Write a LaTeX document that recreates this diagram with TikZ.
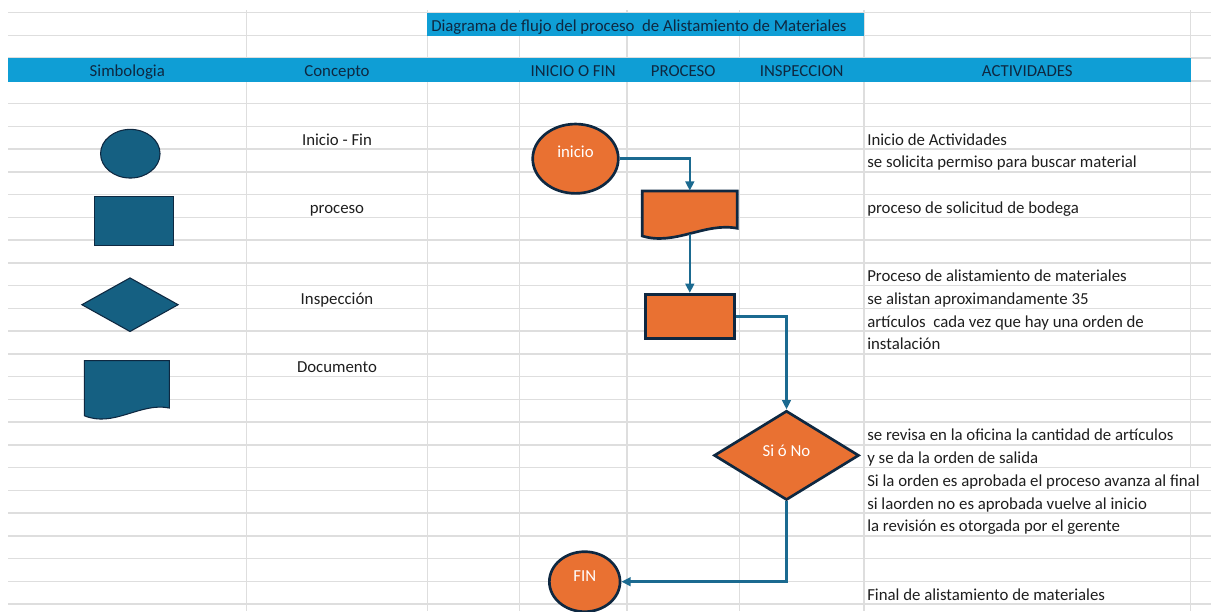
\documentclass[tikz,border=0pt]{standalone}
\usepackage{fontspec}
\setmainfont{Carlito}
\usetikzlibrary{arrows.meta, shapes.geometric}

\definecolor{bandblue}{HTML}{0F9ED5}
\definecolor{symblue}{HTML}{156082}
\definecolor{flworange}{HTML}{E97132}
\definecolor{edgenavy}{HTML}{0E2841}
\definecolor{linkblue}{HTML}{1B6A90}
\definecolor{gridgray}{HTML}{DEDEDE}
\definecolor{inkdark}{HTML}{1E1E1E}

\tikzset{
  gridline/.style={gridgray, line width=1.1pt},
  band/.style={fill=bandblue},
  headtext/.style={anchor=base, inner sep=0pt, text=edgenavy, font=\fontsize{12.6}{15}\selectfont},
  celltext/.style={anchor=base, inner sep=0pt, text=inkdark, font=\fontsize{12.6}{15}\selectfont},
  actext/.style={celltext, anchor=base west},
  symbol/.style={fill=symblue, draw=edgenavy, line width=0.8pt, inner sep=0pt},
  flowshape/.style={fill=flworange, draw=edgenavy, line width=2pt, inner sep=0pt},
  shapetext/.style={text=white, font=\fontsize{12.6}{15}\selectfont},
  link/.style={linkblue, line width=1.9pt, -{Triangle[length=7pt, width=6.5pt]}},
}

\begin{document}
\begin{tikzpicture}[x=0.75pt, y=-0.75pt]
    \useasboundingbox (0,0) rectangle (1211,611);

    % hoja de calculo
    \foreach \k in {0,...,26}
        \draw[gridline] (8,{12.7+22.75*\k}) -- (1211,{12.7+22.75*\k});
    \foreach \c in {246.7,427.3,519.5,627,739.3,864}
        \draw[gridline] (\c,10) -- (\c,611);
    \draw[gridline] (1190.7,10) -- (1190.7,467.7);
    \draw[gridline] (1190.7,490.5) -- (1190.7,611);

    \fill[band] (427.3,12.7) rectangle (864,35.7);
    \fill[band] (8,58.2) rectangle (1190.7,81.5);
    \node[headtext, anchor=base west] (titulo) at (431,31.5)
        {Diagrama de flujo del proceso\ \ de Alistamiento de Materiales};
    \foreach \x/\txt [count=\i] in {127.3/Simbologia, 337/Concepto, 573.2/INICIO O FIN,
            683.2/PROCESO, 801.7/INSPECCION, 1027.3/ACTIVIDADES}
        \node[headtext] (head\i) at (\x,76.5) {\txt};

    % simbologia
    \node[symbol, ellipse, minimum width=44.6pt, minimum height=36.5pt] (symfin) at (130.3,153.7) {};
    \node[symbol, rectangle, minimum width=59.5pt, minimum height=36.2pt] (symproc) at (133.7,220.9) {};
    \node[symbol, diamond, minimum width=72.5pt, minimum height=40.5pt] (symdec) at (130,304.7) {};
    \draw[symbol] (84.3,360.7) -- (169.3,360.7) -- (169.3,408)
        .. controls (140.4,402) and (113.6,428) .. (84.3,415.7) -- cycle;

    \foreach \k/\txt in {5/Inicio - Fin, 8/proceso, 12/Inspección, 15/Documento}
        \node[celltext] (concepto\k) at (337,{12.7+22.75*(\k+1)-4.2}) {\txt};

    % diagrama
    \node[flowshape, ellipse, minimum width=64.2pt, minimum height=52pt,
        label={[shapetext, yshift=5pt]center:inicio}] (inicio) at (575.5,158.7) {};
    \node[inner sep=0pt, minimum width=71.25pt, minimum height=32.25pt] (solicitud) at (689.8,212.5) {};
    \draw[flowshape] (642.3,191) -- (737.3,191) -- (737.3,228.3)
        .. controls (705,222) and (675,246) .. (642.3,236) -- cycle;
    \node[flowshape, rectangle, minimum width=66.75pt, minimum height=33pt] (alistamiento) at (689.8,316.3) {};
    \node[flowshape, diamond, minimum width=108.75pt, minimum height=67pt,
        label={[shapetext, yshift=3.5pt]center:Si ó No}] (revision) at (786.5,455.4) {};
    \node[flowshape, ellipse, minimum width=53pt, minimum height=45pt,
        label={[shapetext, yshift=4.5pt]center:FIN}] (fin) at (584.7,581.7) {};

    \draw[link] (inicio.east) -| (solicitud.north);
    \draw[link] (solicitud.south) -- (alistamiento.north);
    \draw[link] (alistamiento.east) -| (revision.north);
    \draw[link] (revision.south) |- (fin.east);

    % actividades
    \foreach \k/\txt in {5/Inicio de Actividades,
            6/se solicita permiso para buscar material,
            8/proceso de solicitud de bodega,
            11/Proceso de alistamiento de materiales,
            12/se alistan aproximandamente 35,
            13/artículos\ \ cada vez que hay una orden de,
            14/instalación,
            18/se revisa en la oficina la cantidad de artículos,
            19/y se da la orden de salida,
            20/Si la orden es aprobada el proceso avanza al final,
            21/si laorden no es aprobada vuelve al inicio,
            22/la revisión es otorgada por el gerente,
            25/Final de alistamiento de materiales}
        \node[actext] (act\k) at (867,{12.7+22.75*(\k+1)-4.2}) {\txt};
\end{tikzpicture}
\end{document}
